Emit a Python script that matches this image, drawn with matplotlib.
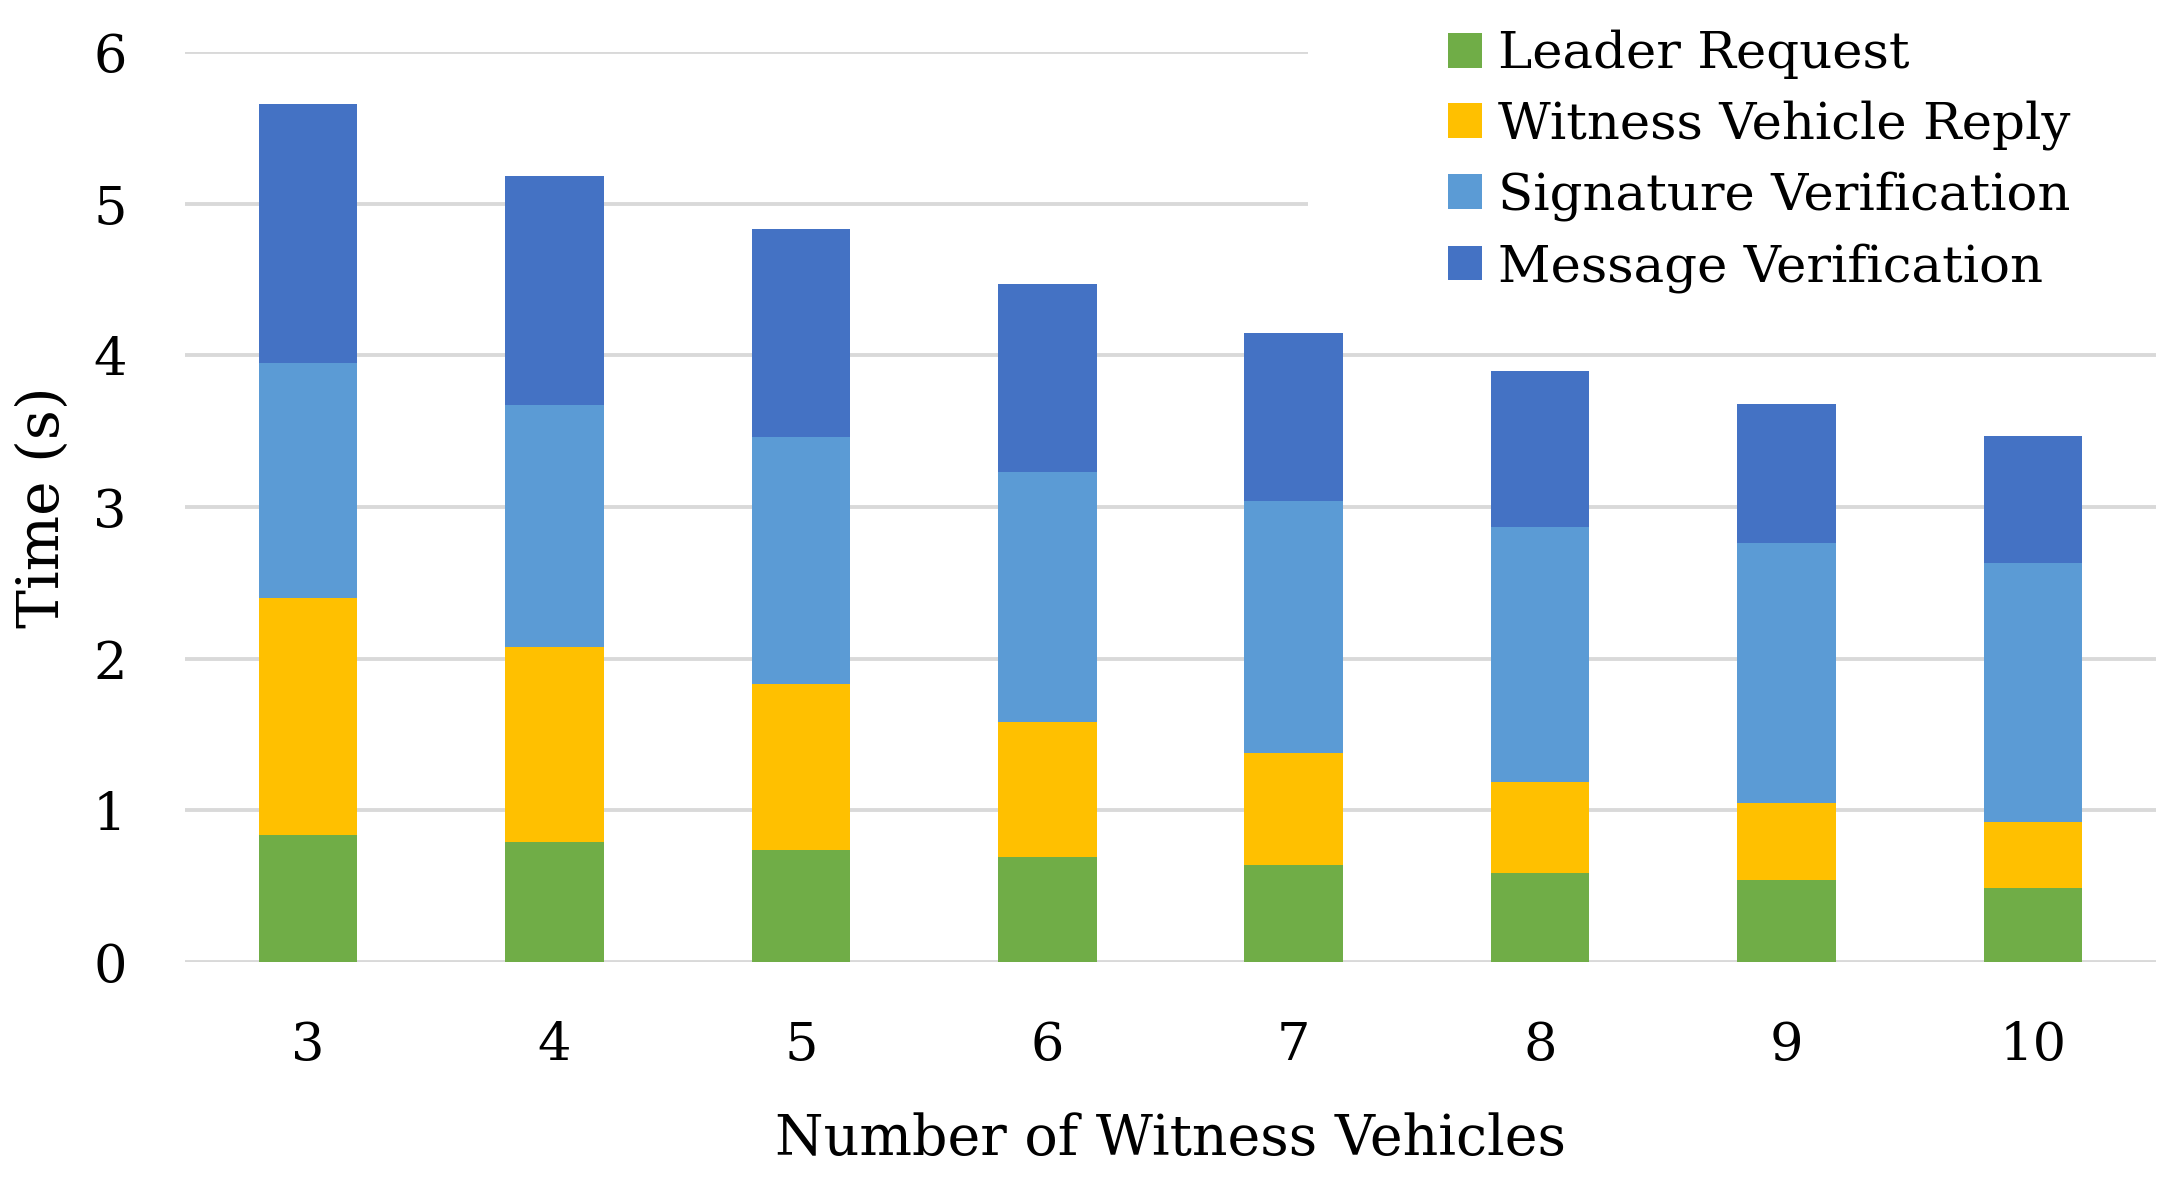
import matplotlib
matplotlib.use("Agg")
import matplotlib.pyplot as plt
from matplotlib.patches import Rectangle

# data (seconds)
witness_counts = ["3", "4", "5", "6", "7", "8", "9", "10"]
leader_request = [0.84, 0.79, 0.74, 0.69, 0.64, 0.59, 0.54, 0.49]
witness_reply = [1.56, 1.29, 1.09, 0.89, 0.74, 0.60, 0.51, 0.43]
signature_verif = [1.55, 1.59, 1.63, 1.65, 1.66, 1.68, 1.71, 1.71]
message_verif = [1.71, 1.51, 1.37, 1.24, 1.11, 1.03, 0.92, 0.84]

series_names = ["Leader Request", "Witness Vehicle Reply",
                "Signature Verification", "Message Verification"]
series_colors = ["#70AD47", "#FFC000", "#5B9BD5", "#4472C4"]

plt.rcParams['font.family'] = ['DejaVu Serif']

fig = plt.figure(figsize=(21.82, 11.92), dpi=100)
ax = fig.add_axes([185 / 2182, 1 - 962 / 1192, 1971 / 2182, 910 / 1192])

x = list(range(len(witness_counts)))
bottom = [0.0] * len(x)
handles = []
for vals, name, col in zip([leader_request, witness_reply, signature_verif, message_verif],
                           series_names, series_colors):
    b = ax.bar(x, vals, width=0.4, bottom=bottom, color=col, label=name, zorder=2)
    handles.append(b)
    bottom = [bt + v for bt, v in zip(bottom, vals)]

ax.set_xlim(-0.5, len(x) - 0.5)
ax.set_ylim(0, 6)
ax.set_yticks(range(0, 7))
ax.set_xticks(x)
ax.set_xticklabels(witness_counts)
ax.tick_params(axis='both', length=0, labelsize=38)
ax.tick_params(axis='y', pad=42)
ax.tick_params(axis='x', pad=42)

ax.set_axisbelow(True)
ax.yaxis.grid(True, color="#D9D9D9", linewidth=2.8)
for s in ax.spines.values():
    s.set_visible(False)

# white area behind the legend hides the upper gridlines, like in the original
ax.add_patch(Rectangle((0.57, 0.70), 0.45, 0.33, transform=ax.transAxes,
                       facecolor="white", edgecolor="none", zorder=0.8, clip_on=False))

ax.set_xlabel("Number of Witness Vehicles", fontsize=40)
ax.set_ylabel("Time (s)", fontsize=42)
ax.xaxis.set_label_coords(0.5, -0.165)
ax.yaxis.set_label_coords(-0.058, 0.5)

leg = ax.legend(handles=handles, loc="upper left", bbox_to_anchor=(1448 / 2182, 1 - 30 / 1192),
                bbox_transform=fig.transFigure, frameon=False, fontsize=37,
                handlelength=0.67, handleheight=0.67, handletextpad=0.3,
                labelspacing=0.41, borderpad=0, borderaxespad=0)
leg.set_zorder(5)

fig.savefig("out.png", dpi=100, facecolor="white")
